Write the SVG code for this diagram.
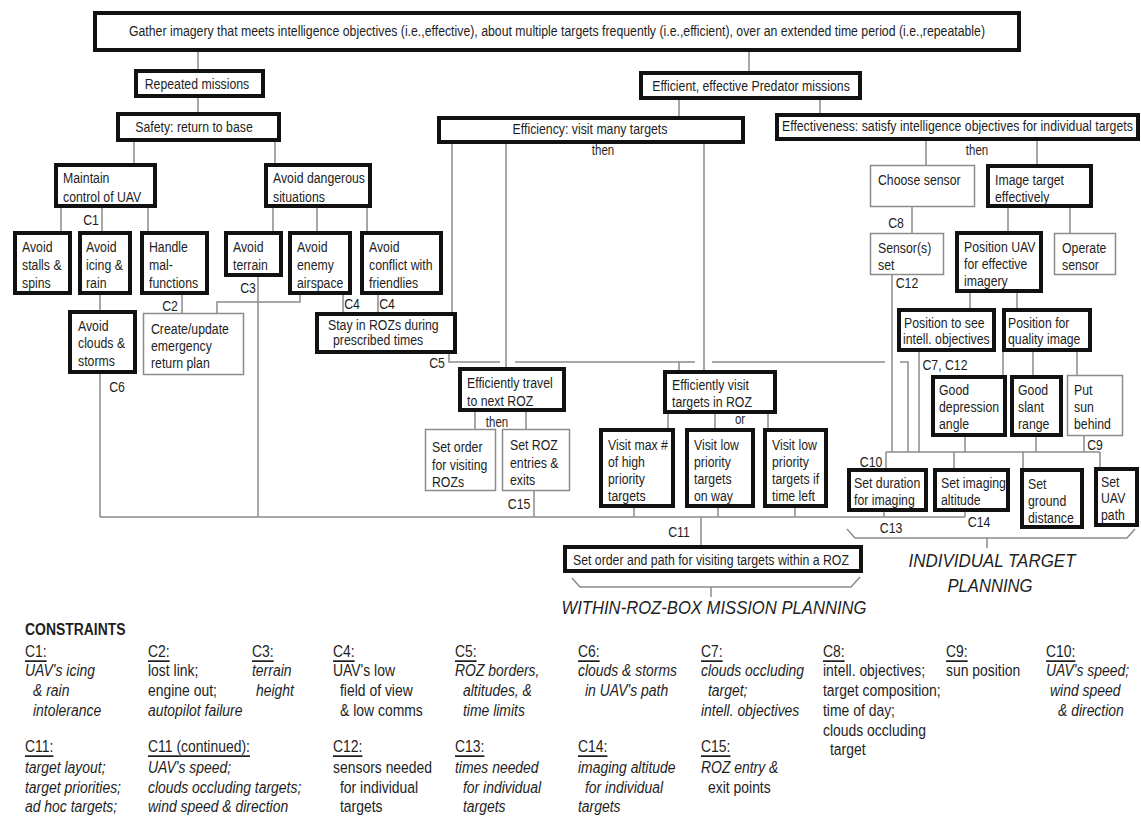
<svg xmlns="http://www.w3.org/2000/svg" width="1141" height="817" viewBox="0 0 1141 817">
<style>
.tb{fill:#fff;stroke:#111;stroke-width:4}
.nb{fill:#fff;stroke:#8c8c8c;stroke-width:1.5}
text{font-family:"Liberation Sans",Arial,sans-serif;fill:#1e1e1e;dominant-baseline:central;transform-box:fill-box;transform-origin:0 50%;transform:scaleX(.82)}
.m{text-anchor:middle;transform-origin:50% 50%}
.t{font-size:15px}
.s{font-size:14px}
.k{font-size:17px}
.i{font-style:italic}
.u{text-decoration:underline}
.h{font-size:17px;font-weight:bold}
.sec{font-size:19px;font-style:italic;text-anchor:middle;transform:none}
#connectors path{fill:none;stroke:#8c8c8c;stroke-width:1.5}
</style>
<rect width="1141" height="817" fill="#fff"/>
<g id="connectors">
<path d="M198,52V69 M198,98V112 M749,52V71 M679,100V116 M820,100V113"/>
<path d="M134,142V163 M275,142V163 M61,208V231 M102,208V231 M148,208V231 M273,208V231 M317,208V231 M367,208V231"/>
<path d="M100,295V310 M100,374V517 M182,295V313 M300,295V302H217V313 M258,277V517 M343,295V312 M378,295V312"/>
<path d="M452,144V312 M449,354V362H500 M515,362H695 M712,362H885 M900,362H908V452"/>
<path d="M506,144V367 M704,144V370 M679,362V370 M475,412V429 M526,412V429 M534,491V517"/>
<path d="M668,414V428 M715,414V428 M768,414V428 M634,508V517 M718,508V517 M795,508V517"/>
<path d="M100,517H965 M701,517V545"/>
<path d="M926,141V165 M1037,141V164 M912,207V233 M1008,208V231 M1070,208V233 M892,275V452"/>
<path d="M970,293V308 M1017,293V308 M919,352V452 M1003,352V375 M1033,352V375 M1077,352V375"/>
<path d="M965,437V452 M1036,437V452 M1084,436V452 M886,452H1100 M886,452V468 M954,452V468 M1023,452V468 M1100,452V467 M884,512V517 M965,512V517"/>
<path d="M572,578L580,587H851L860,577 M711,587V597"/>
<path d="M847,529L855,538H1127L1135,529 M987,538V548"/>
</g>
<g id="labels">
<text class="t m" x="91" y="220">C1</text>
<text class="t m" x="170" y="306">C2</text>
<text class="t m" x="248" y="288">C3</text>
<text class="t m" x="352" y="304">C4</text>
<text class="t m" x="387" y="304">C4</text>
<text class="t m" x="437" y="363">C5</text>
<text class="t m" x="117" y="387">C6</text>
<text class="t m" x="519" y="504">C15</text>
<text class="t m" x="679" y="532">C11</text>
<text class="t m" x="891" y="528">C13</text>
<text class="t m" x="979" y="522">C14</text>
<text class="t m" x="871" y="462">C10</text>
<text class="t m" x="1095" y="445">C9</text>
<text class="t m" x="945" y="365">C7, C12</text>
<text class="t m" x="896" y="223">C8</text>
<text class="t m" x="907" y="283">C12</text>
<text class="s m" x="603" y="150">then</text>
<text class="s m" x="977" y="150">then</text>
<text class="s m" x="497" y="422">then</text>
<text class="s m" x="740" y="419">or</text>
<text class="sec" x="714" y="607" textLength="305" lengthAdjust="spacingAndGlyphs">WITHIN-ROZ-BOX MISSION PLANNING</text>
<text class="sec" x="992" y="560" textLength="167" lengthAdjust="spacingAndGlyphs">INDIVIDUAL TARGET</text>
<text class="sec" x="990" y="585" textLength="85" lengthAdjust="spacingAndGlyphs">PLANNING</text>
</g>
<g id="n-top"><rect class="tb" x="95" y="13" width="924" height="37"/><text class="t m" x="557" y="31">Gather imagery that meets intelligence objectives (i.e.,effective), about multiple targets frequently (i.e.,efficient), over an extended time period (i.e.,repeatable)</text></g>
<g id="n-repeated"><rect class="tb" x="136" y="71" width="127" height="25"/><text class="t m" x="197" y="84">Repeated missions</text></g>
<g id="n-efficient"><rect class="tb" x="641" y="73" width="219" height="25"/><text class="t m" x="751" y="86">Efficient, effective Predator missions</text></g>
<g id="n-safety"><rect class="tb" x="118" y="114" width="161" height="26"/><text class="t m" x="194" y="127">Safety: return to base</text></g>
<g id="n-efficiency"><rect class="tb" x="439" y="118" width="304" height="24"/><text class="t m" x="590" y="129">Efficiency: visit many targets</text></g>
<g id="n-effectiveness"><rect class="tb" x="777" y="115" width="361" height="24"/><text class="t" x="782" y="126">Effectiveness: satisfy intelligence objectives for individual targets</text></g>
<g id="n-maintain"><rect class="tb" x="56" y="165" width="99" height="41"/><text class="t" x="63" y="178">Maintain</text><text class="t" x="63" y="197">control of UAV</text></g>
<g id="n-dangerous"><rect class="tb" x="266" y="165" width="104" height="41"/><text class="t" x="273" y="178">Avoid dangerous</text><text class="t" x="273" y="197">situations</text></g>
<g id="n-stalls"><rect class="tb" x="15" y="233" width="55" height="60"/><text class="t" x="22" y="247">Avoid</text><text class="t" x="22" y="265">stalls &amp;</text><text class="t" x="22" y="283">spins</text></g>
<g id="n-icing"><rect class="tb" x="80" y="233" width="50" height="60"/><text class="t" x="86" y="247">Avoid</text><text class="t" x="86" y="265">icing &amp;</text><text class="t" x="86" y="283">rain</text></g>
<g id="n-handle"><rect class="tb" x="142" y="233" width="65" height="60"/><text class="t" x="149" y="247">Handle</text><text class="t" x="149" y="265">mal-</text><text class="t" x="149" y="283">functions</text></g>
<g id="n-terrain"><rect class="tb" x="226" y="233" width="55" height="42"/><text class="t" x="233" y="247">Avoid</text><text class="t" x="233" y="265">terrain</text></g>
<g id="n-enemy"><rect class="tb" x="290" y="233" width="60" height="60"/><text class="t" x="297" y="247">Avoid</text><text class="t" x="297" y="265">enemy</text><text class="t" x="297" y="283">airspace</text></g>
<g id="n-conflict"><rect class="tb" x="362" y="233" width="79" height="60"/><text class="t" x="369" y="247">Avoid</text><text class="t" x="369" y="265">conflict with</text><text class="t" x="369" y="283">friendlies</text></g>
<g id="n-clouds"><rect class="tb" x="70" y="312" width="65" height="60"/><text class="t" x="78" y="326">Avoid</text><text class="t" x="78" y="343">clouds &amp;</text><text class="t" x="78" y="361">storms</text></g>
<g id="n-create"><rect class="nb" x="143.5" y="313.5" width="100" height="61"/><text class="t" x="151" y="329">Create/update</text><text class="t" x="151" y="346">emergency</text><text class="t" x="151" y="363">return plan</text></g>
<g id="n-stay"><rect class="tb" x="317" y="314" width="138" height="38"/><text class="t" x="328" y="325">Stay in ROZs during</text><text class="t" x="333" y="340">prescribed times</text></g>
<g id="n-travel"><rect class="tb" x="460" y="369" width="104" height="41"/><text class="t" x="467" y="383">Efficiently travel</text><text class="t" x="467" y="401">to next ROZ</text></g>
<g id="n-orderroz"><rect class="nb" x="425.5" y="429.5" width="70" height="61"/><text class="t" x="432" y="447">Set order</text><text class="t" x="432" y="465">for visiting</text><text class="t" x="432" y="482">ROZs</text></g>
<g id="n-entries"><rect class="nb" x="502.5" y="429.5" width="67" height="61"/><text class="t" x="510" y="445">Set ROZ</text><text class="t" x="510" y="463">entries &amp;</text><text class="t" x="510" y="480">exits</text></g>
<g id="n-visit"><rect class="tb" x="665" y="372" width="110" height="40"/><text class="t" x="672" y="385">Efficiently visit</text><text class="t" x="672" y="402">targets in ROZ</text></g>
<g id="n-visitmax"><rect class="tb" x="601" y="430" width="72" height="76"/><text class="t" x="608" y="445">Visit max #</text><text class="t" x="608" y="462">of high</text><text class="t" x="608" y="479">priority</text><text class="t" x="608" y="496">targets</text></g>
<g id="n-visitway"><rect class="tb" x="687" y="430" width="66" height="76"/><text class="t" x="694" y="445">Visit low</text><text class="t" x="694" y="462">priority</text><text class="t" x="694" y="479">targets</text><text class="t" x="694" y="496">on way</text></g>
<g id="n-visittime"><rect class="tb" x="765" y="430" width="61" height="76"/><text class="t" x="772" y="445">Visit low</text><text class="t" x="772" y="462">priority</text><text class="t" x="772" y="479">targets if</text><text class="t" x="772" y="496">time left</text></g>
<g id="n-orderpath"><rect class="tb" x="565" y="547" width="296" height="24"/><text class="t" x="573" y="560">Set order and path for visiting targets within a ROZ</text></g>
<g id="n-choose"><rect class="nb" x="870.5" y="165.5" width="104" height="41"/><text class="t" x="878" y="180">Choose sensor</text></g>
<g id="n-image"><rect class="tb" x="988" y="166" width="103" height="40"/><text class="t" x="995" y="180">Image target</text><text class="t" x="995" y="197">effectively</text></g>
<g id="n-sensorset"><rect class="nb" x="870.5" y="233.5" width="73" height="41"/><text class="t" x="878" y="248">Sensor(s)</text><text class="t" x="878" y="265">set</text></g>
<g id="n-posuav"><rect class="tb" x="957" y="233" width="84" height="58"/><text class="t" x="964" y="247">Position UAV</text><text class="t" x="964" y="264">for effective</text><text class="t" x="964" y="281">imagery</text></g>
<g id="n-operate"><rect class="nb" x="1054.5" y="233.5" width="61" height="41"/><text class="t" x="1062" y="248">Operate</text><text class="t" x="1062" y="265">sensor</text></g>
<g id="n-possee"><rect class="tb" x="899" y="310" width="95" height="40"/><text class="t" x="904" y="323">Position to see</text><text class="t" x="903" y="339">intell. objectives</text></g>
<g id="n-posquality"><rect class="tb" x="1004" y="310" width="86" height="40"/><text class="t" x="1008" y="323">Position for</text><text class="t" x="1008" y="339">quality image</text></g>
<g id="n-depression"><rect class="tb" x="933" y="377" width="72" height="58"/><text class="t" x="939" y="390">Good</text><text class="t" x="939" y="407">depression</text><text class="t" x="939" y="424">angle</text></g>
<g id="n-slant"><rect class="tb" x="1012" y="377" width="49" height="58"/><text class="t" x="1018" y="390">Good</text><text class="t" x="1018" y="407">slant</text><text class="t" x="1018" y="424">range</text></g>
<g id="n-sun"><rect class="nb" x="1067.5" y="375.5" width="55" height="60"/><text class="t" x="1074" y="390">Put</text><text class="t" x="1074" y="407">sun</text><text class="t" x="1074" y="424">behind</text></g>
<g id="n-duration"><rect class="tb" x="849" y="470" width="77" height="40"/><text class="t" x="854" y="483">Set duration</text><text class="t" x="854" y="500">for imaging</text></g>
<g id="n-altitude"><rect class="tb" x="935" y="470" width="73" height="40"/><text class="t" x="941" y="483">Set imaging</text><text class="t" x="941" y="500">altitude</text></g>
<g id="n-ground"><rect class="tb" x="1022" y="470" width="60" height="57"/><text class="t" x="1028" y="484">Set</text><text class="t" x="1028" y="501">ground</text><text class="t" x="1028" y="518">distance</text></g>
<g id="n-uavpath"><rect class="tb" x="1096" y="469" width="41" height="56"/><text class="t" x="1101" y="482">Set</text><text class="t" x="1101" y="498">UAV</text><text class="t" x="1101" y="515">path</text></g>
<g id="constraints">
<text class="h" x="25" y="629">CONSTRAINTS</text>
<text class="k u" x="25" y="651">C1:</text><text class="k i" x="25" y="670">UAV's icing</text><text class="k i" x="33" y="690">&amp; rain</text><text class="k i" x="33" y="710">intolerance</text>
<text class="k u" x="148" y="651">C2:</text><text class="k" x="148" y="670">lost link;</text><text class="k" x="148" y="690">engine out;</text><text class="k i" x="148" y="710">autopilot failure</text>
<text class="k u" x="252" y="651">C3:</text><text class="k i" x="252" y="670">terrain</text><text class="k i" x="256" y="690">height</text>
<text class="k u" x="333" y="651">C4:</text><text class="k" x="333" y="670">UAV's low</text><text class="k" x="340" y="690">field of view</text><text class="k" x="340" y="710">&amp;  low comms</text>
<text class="k u" x="455" y="651">C5:</text><text class="k i" x="455" y="670">ROZ borders,</text><text class="k i" x="463" y="690">altitudes, &amp;</text><text class="k i" x="463" y="710">time limits</text>
<text class="k u" x="578" y="651">C6:</text><text class="k i" x="578" y="670">clouds &amp; storms</text><text class="k i" x="585" y="690">in UAV's path</text>
<text class="k u" x="701" y="651">C7:</text><text class="k i" x="701" y="670">clouds occluding</text><text class="k i" x="708" y="690">target;</text><text class="k i" x="701" y="710">intell. objectives</text>
<text class="k u" x="823" y="651">C8:</text><text class="k" x="823" y="670">intell. objectives;</text><text class="k" x="823" y="690">target composition;</text><text class="k" x="823" y="710">time of day;</text><text class="k" x="823" y="730">clouds occluding</text><text class="k" x="830" y="749">target</text>
<text class="k u" x="946" y="651">C9:</text><text class="k" x="946" y="670">sun position</text>
<text class="k u" x="1046" y="651">C10:</text><text class="k i" x="1046" y="670">UAV's speed;</text><text class="k i" x="1050" y="690">wind speed</text><text class="k i" x="1058" y="710">&amp; direction</text>
<text class="k u" x="25" y="746">C11:</text><text class="k i" x="25" y="767">target layout;</text><text class="k i" x="25" y="787">target priorities;</text><text class="k i" x="25" y="806">ad hoc targets;</text>
<text class="k u" x="148" y="746">C11 (continued):</text><text class="k i" x="148" y="767">UAV's speed;</text><text class="k i" x="148" y="787">clouds occluding targets;</text><text class="k i" x="148" y="806">wind speed &amp; direction</text>
<text class="k u" x="333" y="746">C12:</text><text class="k" x="333" y="767">sensors needed</text><text class="k" x="340" y="787">for individual</text><text class="k" x="340" y="806">targets</text>
<text class="k u" x="455" y="746">C13:</text><text class="k i" x="455" y="767">times needed</text><text class="k i" x="463" y="787">for individual</text><text class="k i" x="463" y="806">targets</text>
<text class="k u" x="578" y="746">C14:</text><text class="k i" x="578" y="767">imaging altitude</text><text class="k i" x="585" y="787">for individual</text><text class="k i" x="578" y="806">targets</text>
<text class="k u" x="701" y="746">C15:</text><text class="k i" x="701" y="767">ROZ entry &amp;</text><text class="k" x="708" y="787">exit points</text>
</g>
</svg>
